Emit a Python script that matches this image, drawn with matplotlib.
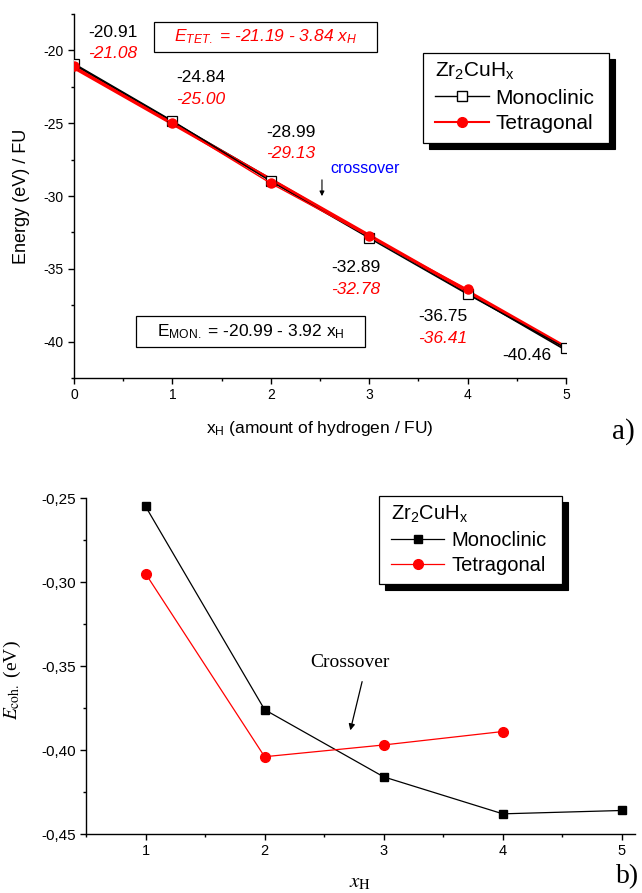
import numpy as np
import matplotlib.pyplot as plt
from matplotlib.lines import Line2D
from matplotlib.patches import Rectangle
from matplotlib.ticker import MultipleLocator, FuncFormatter

plt.rcParams['font.family'] = ['Liberation Sans', 'DejaVu Sans']
plt.rcParams['mathtext.fontset'] = 'custom'
plt.rcParams['mathtext.rm'] = 'Liberation Sans'
plt.rcParams['mathtext.it'] = 'Liberation Sans:italic'
plt.rcParams['mathtext.bf'] = 'Liberation Sans:bold'
plt.rcParams['axes.unicode_minus'] = False

# --- dados painel a) ---
x_h = [0, 1, 2, 3, 4, 5]
e_mon = [-20.91, -24.84, -28.99, -32.89, -36.75, -40.46]
x_tet = [0, 1, 2, 3, 4]
e_tet = [-21.08, -25.00, -29.13, -32.78, -36.41]
fit_mon = (-20.99, -3.92)   # E = a + b*x
fit_tet = (-21.19, -3.84)

# --- dados painel b) ---
xb_mon = [1, 2, 3, 4, 5]
ecoh_mon = [-0.255, -0.376, -0.416, -0.438, -0.436]
xb_tet = [1, 2, 3, 4]
ecoh_tet = [-0.295, -0.404, -0.397, -0.389]

W, H = 642, 893
fig = plt.figure(figsize=(W / 100, H / 100), dpi=100)


def fx(px):
    return px / W


def fy(py):
    return 1 - py / H


def box(x0, y0, x1, y1, shadow=0):
    # caixa desenhada em pixels da figura
    if shadow:
        fig.add_artist(Rectangle((fx(x0 + shadow), fy(y1 + shadow)), fx(x1) - fx(x0), fy(y0) - fy(y1),
                                 transform=fig.transFigure, fc='black', ec='black', lw=0.8, zorder=1))
    fig.add_artist(Rectangle((fx(x0), fy(y1)), fx(x1) - fx(x0), fy(y0) - fy(y1),
                             transform=fig.transFigure, fc='white', ec='black', lw=0.9, zorder=1.5))


def style_axes(ax):
    for s in ['top', 'right']:
        ax.spines[s].set_visible(False)
    for s in ['left', 'bottom']:
        ax.spines[s].set_linewidth(1.0)
    ax.tick_params(which='major', direction='out', length=4, width=1, labelsize=10)
    ax.tick_params(which='minor', direction='out', length=2.5, width=1)


# --- PAINEL a) ---
ax1 = fig.add_axes([fx(74), fy(378), fx(566) - fx(74), fy(14) - fy(378)])
style_axes(ax1)
xf = np.array([x_h[0], x_h[-1]])
ax1.plot(xf, fit_mon[0] + fit_mon[1] * xf, color='black', lw=1.3, zorder=2)
ax1.plot(xf, fit_tet[0] + fit_tet[1] * xf, color='red', lw=2.4, zorder=3)
ax1.plot(x_h, e_mon, color='black', lw=1.0, marker='s', ms=7.5, mfc='white', mec='black', mew=0.9, zorder=4)
ax1.plot(x_tet, e_tet, color='red', lw=1.0, marker='o', ms=6.5, mfc='red', mec='red', zorder=5)
ax1.set_xlim(0, 5)
ax1.set_ylim(-42.5, -17.5)
ax1.xaxis.set_major_locator(MultipleLocator(1))
ax1.xaxis.set_minor_locator(MultipleLocator(0.5))
ax1.yaxis.set_major_locator(MultipleLocator(5))
ax1.yaxis.set_minor_locator(MultipleLocator(2.5))
ax1.set_yticks([-20, -25, -30, -35, -40])

# rótulos com os valores
pos_mon = [(0.14, -18.77), (1.04, -21.85), (1.95, -25.62), (2.61, -34.93), (3.50, -38.29), (4.35, -40.96)]
pos_tet = [(0.14, -20.21), (1.04, -23.36), (1.95, -27.05), (2.61, -36.44), (3.50, -39.79)]
for (px, py), v in zip(pos_mon, e_mon):
    ax1.text(px, py, f"{v:.2f}", fontsize=12.5, color='black', ha='left', va='center')
for (px, py), v in zip(pos_tet, e_tet):
    ax1.text(px, py, f"{v:.2f}", fontsize=12.5, color='red', style='italic', ha='left', va='center')

ax1.text(2.61, -28.08, "crossover", color='blue', fontsize=11.5, ha='left', va='center')
ax1.annotate('', xy=(2.52, -30.2), xytext=(2.52, -28.7),
             arrowprops=dict(arrowstyle='-|>', color='black', lw=0.8, mutation_scale=7))

# equações
box(154, 22, 377, 52)
fig.text(fx(265.5), fy(37), r"$E_{TET.}$ = -21.19 - 3.84 $x_H$", color='red', style='italic',
         fontsize=12.5, ha='center', va='center', zorder=3)
box(136, 316, 365, 347)
fig.text(fx(250.5), fy(331.5), r"E$_{\rm MON.}$ = -20.99 - 3.92 x$_{\rm H}$", color='black',
         fontsize=12.5, ha='center', va='center', zorder=3)

# legenda
box(423, 53, 609, 143, shadow=6)
h1 = [Line2D([], [], color='black', lw=1.0, marker='s', ms=7.5, mfc='white', mec='black'),
      Line2D([], [], color='red', lw=1.5, marker='o', ms=7, mfc='red', mec='red')]
fig.legend(h1, ['Monoclinic', 'Tetragonal'], loc='upper left', bbox_to_anchor=(fx(435), fy(61)),
           frameon=False, title=r"Zr$_2$CuH$_{\rm x}$", title_fontsize=15, fontsize=15,
           handlelength=2.6, handletextpad=0.3, labelspacing=0.3, borderpad=0, borderaxespad=0,
           alignment='left')

fig.text(fx(320), fy(428), r"x$_{\rm H}$ (amount of hydrogen / FU)", fontsize=12.5, ha='center', va='center')
fig.text(fx(22), fy(196), "Energy (eV) / FU", fontsize=13, rotation=90, ha='center', va='center')
fig.text(fx(612), fy(432), "a)", fontsize=21, family='Liberation Serif', ha='left', va='center')

# --- PAINEL b) ---
ax2 = fig.add_axes([fx(86), fy(834), fx(635) - fx(86), fy(498) - fy(834)])
style_axes(ax2)
ax2.plot(xb_mon, ecoh_mon, color='black', lw=0.9, marker='s', ms=6, mfc='black', mec='black', zorder=3)
ax2.plot(xb_tet, ecoh_tet, color='red', lw=0.9, marker='o', ms=7, mfc='red', mec='red', zorder=3)
ax2.set_xlim(0.5, 5.11)
ax2.set_ylim(-0.45, -0.25)
ax2.xaxis.set_major_locator(MultipleLocator(1))
ax2.xaxis.set_minor_locator(MultipleLocator(0.5))
ax2.yaxis.set_major_locator(MultipleLocator(0.05))
ax2.yaxis.set_minor_locator(MultipleLocator(0.025))
ax2.yaxis.set_major_formatter(FuncFormatter(lambda v, p: f"{v:.2f}".replace('.', ',')))
ax2.tick_params(axis='y', which='major', labelsize=11)
ax2.tick_params(axis='x', which='major', labelsize=10.5)

ax2.text(2.714, -0.3482, "Crossover", family='Liberation Serif', fontsize=14, ha='center', va='center')
ax2.annotate('', xy=(2.714, -0.3899), xytext=(2.824, -0.3577),
             arrowprops=dict(arrowstyle='-|>', color='black', lw=0.9, mutation_scale=9))

box(379, 496, 562, 584, shadow=6)
h2 = [Line2D([], [], color='black', lw=0.9, marker='s', ms=6, mfc='black', mec='black'),
      Line2D([], [], color='red', lw=0.9, marker='o', ms=7, mfc='red', mec='red')]
fig.legend(h2, ['Monoclinic', 'Tetragonal'], loc='upper left', bbox_to_anchor=(fx(391), fy(504)),
           frameon=False, title=r"Zr$_2$CuH$_{\rm x}$", title_fontsize=14.5, fontsize=14.5,
           handlelength=2.65, handletextpad=0.35, labelspacing=0.3, borderpad=0, borderaxespad=0,
           alignment='left')

fig.text(fx(360), fy(883), r"$x_{\rm H}$", fontsize=15, math_fontfamily='stix', ha='center', va='center')
fig.text(fx(12), fy(680), r"$E_{\rm coh.}$ (eV)", fontsize=14, family='Liberation Serif',
         math_fontfamily='stix', rotation=90, ha='center', va='center')
fig.text(fx(616), fy(877), "b)", fontsize=20, family='Liberation Serif', ha='left', va='center')

fig.savefig("out.png", dpi=100)
